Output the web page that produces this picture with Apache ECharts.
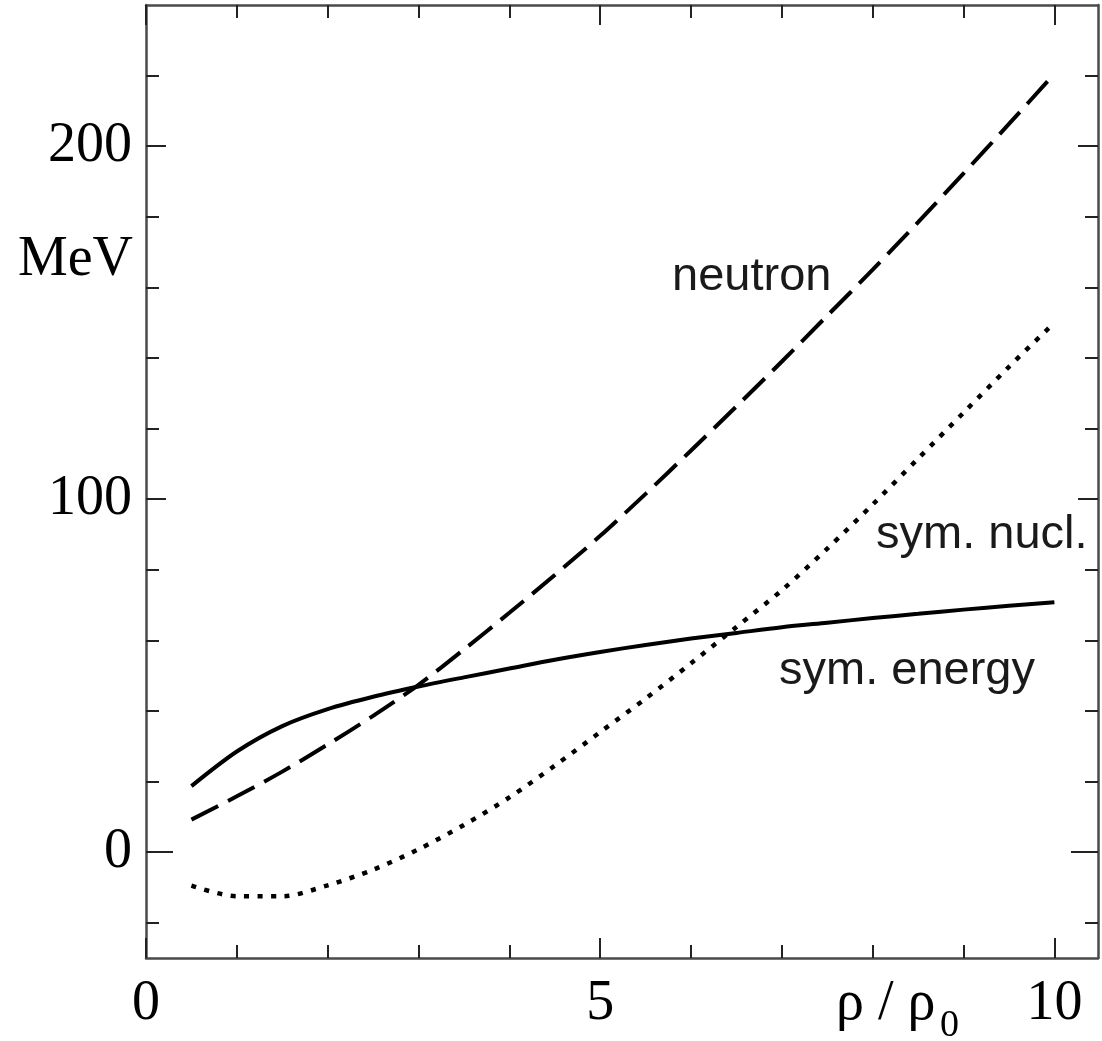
<!DOCTYPE html>
<html>
<head>
<meta charset="utf-8">
<script src="https://cdn.jsdelivr.net/npm/echarts@6/dist/echarts.min.js"></script>
<style>
html,body{margin:0;padding:0;background:#fff;}
#chart{width:1102px;height:1041px;}
</style>
</head>
<body>
<div id="chart"></div>
<script>
// ---- data ----
const rho = [0.5, 1, 1.5, 2, 2.5, 3, 3.5, 4, 4.5, 5, 5.5, 6, 6.5, 7, 7.5, 8, 8.5, 9, 9.5, 10];
const symEnergy = [18.7, 28.5, 35.7, 40.5, 44.0, 46.9, 49.5, 52.0, 54.5, 56.7, 58.7, 60.5, 62.1, 63.7, 65.0, 66.3, 67.5, 68.7, 69.8, 70.8];
const neutron = [9.2, 15.8, 22.8, 30.5, 38.6, 47.4, 57.4, 67.8, 78.5, 89.6, 101.5, 113.8, 126.3, 139.0, 152.0, 165.0, 178.5, 192.3, 206.3, 220.5];
const symNucl = [-9.5, -12.5, -12.5, -9.4, -5.0, 0.8, 7.7, 15.5, 24.5, 34.0, 43.5, 53.5, 63.8, 74.2, 86.0, 98.5, 111.5, 124.5, 137.5, 150.0];

const xMajorTicks = [0, 5, 10];
const xMinorTicks = [1, 2, 3, 4, 6, 7, 8, 9];
const yMajorTicks = [100, 200];
const yZeroTick = [0];
const yMinorTicks = [-20, 20, 40, 60, 80, 120, 140, 160, 180, 220];
const xTickLabels = [0, 5, 10];
const yTickLabels = [0, 100, 200];

const X_MIN = 0, X_MAX = 10.48, Y_MIN = -30, Y_MAX = 240;

const serif = '"Liberation Serif", "Times New Roman", serif';
const sans = '"Liberation Sans", Arial, Helvetica, sans-serif';
const axisColor = '#4a4a4a';
const tickColor = '#222';

function pairs(xs, ys) { return xs.map((x, i) => [x, ys[i]]); }

function mkAxis(kind, pos, ticks, len, withLine, labels) {
  const ax = {
    type: 'value',
    gridIndex: 0,
    position: pos,
    min: kind === 'x' ? X_MIN : Y_MIN,
    max: kind === 'x' ? X_MAX : Y_MAX,
    splitLine: { show: false },
    axisLine: { show: withLine, onZero: false, lineStyle: { color: axisColor, width: 2.5 } },
    axisTick: { show: true, inside: true, length: len, customValues: ticks, lineStyle: { color: tickColor, width: 2 } },
    axisLabel: { show: false },
    axisPointer: { show: false }
  };
  if (labels) {
    ax.axisLabel = {
      show: true,
      customValues: labels,
      fontFamily: serif,
      fontSize: 56,
      color: '#000',
      margin: kind === 'x' ? 18 : 14
    };
  }
  return ax;
}

const chart = echarts.init(document.getElementById('chart'), null, { renderer: 'canvas' });

const option = {
  animation: false,
  backgroundColor: '#fff',
  grid: { left: 146, top: 5, right: 4, bottom: 83, containLabel: false },
  xAxis: [
    mkAxis('x', 'bottom', xMajorTicks, 20, true, xTickLabels),
    mkAxis('x', 'bottom', xMinorTicks, 13, false, null),
    mkAxis('x', 'top', xMajorTicks, 20, true, null),
    mkAxis('x', 'top', xMinorTicks, 13, false, null)
  ],
  yAxis: [
    mkAxis('y', 'left', yMajorTicks, 20, true, yTickLabels),
    mkAxis('y', 'left', yMinorTicks, 13, false, null),
    mkAxis('y', 'left', yZeroTick, 27, false, null),
    mkAxis('y', 'right', yMajorTicks, 20, true, null),
    mkAxis('y', 'right', yMinorTicks, 13, false, null),
    mkAxis('y', 'right', yZeroTick, 27, false, null)
  ],
  series: [
    {
      name: 'sym. energy', type: 'line', xAxisIndex: 0, yAxisIndex: 0,
      data: pairs(rho, symEnergy), smooth: 0.3, showSymbol: false, silent: true,
      lineStyle: { color: '#000', width: 4, cap: 'butt' }
    },
    {
      name: 'neutron', type: 'line', xAxisIndex: 0, yAxisIndex: 0,
      data: pairs(rho, neutron), smooth: 0.3, showSymbol: false, silent: true,
      lineStyle: { color: '#000', width: 4, type: [30, 11], cap: 'butt' }
    },
    {
      name: 'sym. nucl.', type: 'line', xAxisIndex: 0, yAxisIndex: 0,
      data: pairs(rho, symNucl), smooth: 0.3, showSymbol: false, silent: true,
      lineStyle: { color: '#000', width: 4.5, type: [5, 8.5], cap: 'butt' }
    }
  ],
  graphic: [
    { type: 'text', silent: true, style: { text: 'neutron', x: 672, y: 277, font: '47px ' + sans, fill: '#1a1a1a', textAlign: 'left', textVerticalAlign: 'middle' } },
    { type: 'text', silent: true, style: { text: 'sym. nucl.', x: 876, y: 535, font: '47px ' + sans, fill: '#1a1a1a', textAlign: 'left', textVerticalAlign: 'middle' } },
    { type: 'text', silent: true, style: { text: 'sym. energy', x: 779, y: 671, font: '47px ' + sans, fill: '#1a1a1a', textAlign: 'left', textVerticalAlign: 'middle' } },
    { type: 'text', silent: true, style: { text: 'MeV', x: 133, y: 260, font: '56px ' + serif, fill: '#000', textAlign: 'right', textVerticalAlign: 'middle' } },
    { type: 'text', silent: true, style: { text: 'ρ / ρ', x: 836, y: 1004, font: '56px ' + serif, fill: '#000', textAlign: 'left', textVerticalAlign: 'middle' } },
    { type: 'text', silent: true, style: { text: '0', x: 940, y: 1026, font: '38px ' + serif, fill: '#000', textAlign: 'left', textVerticalAlign: 'middle' } }
  ]
};
chart.setOption(option);
</script>
</body>
</html>
